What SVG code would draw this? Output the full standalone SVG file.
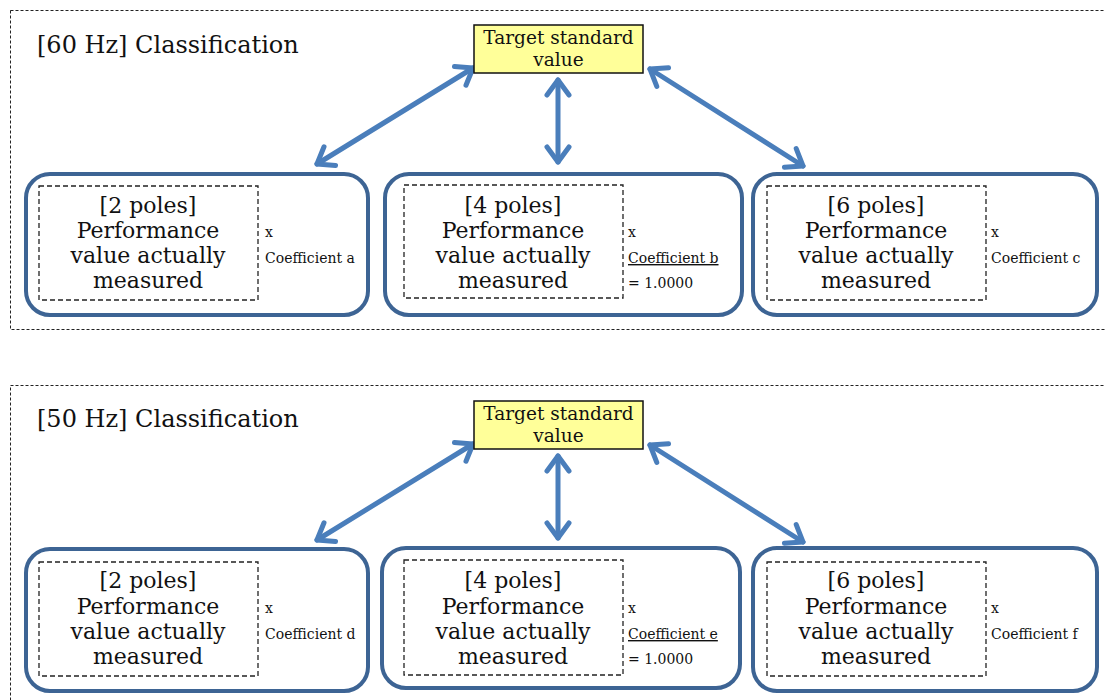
<svg xmlns="http://www.w3.org/2000/svg" width="1105" height="700" viewBox="0 0 1105 700">
<defs>
<style>
.frame{fill:none;stroke:#222;stroke-width:1;stroke-dasharray:3 2}
.title{font-family:"DejaVu Serif","Liberation Serif",serif;font-size:24px;fill:#111}
.target{fill:#ffff99;stroke:#111;stroke-width:1.5}
.ttext{font-family:"DejaVu Serif","Liberation Serif",serif;font-size:18.5px;fill:#111;text-anchor:middle}
.card{fill:#fff;stroke:#3d6494;stroke-width:4}
.inner{fill:none;stroke:#222;stroke-width:1.3;stroke-dasharray:5 3}
.body{font-family:"DejaVu Serif","Liberation Serif",serif;font-size:22px;fill:#111;text-anchor:middle}
.coef{font-family:"DejaVu Serif","Liberation Serif",serif;font-size:14px;fill:#111}
.link{fill:none;stroke:#4a7ebb;stroke-width:5;stroke-linecap:round;marker-start:url(#chev);marker-end:url(#chev)}
</style>
<marker id="chev" markerUnits="userSpaceOnUse" viewBox="-22 -16 28 32" refX="0" refY="0" markerWidth="28" markerHeight="32" orient="auto-start-reverse" overflow="visible">
<path d="M-15,-11 L0,0 L-15,11" fill="none" stroke="#4a7ebb" stroke-width="5" stroke-linecap="round" stroke-linejoin="round"/>
</marker>
</defs>
<rect width="1105" height="700" fill="#fff"/>

<g id="section-60hz">
<rect class="frame" x="10.5" y="10.5" width="1110" height="319"/>
<text class="title" x="37" y="53">[60 Hz] Classification</text>
</g>
<g id="section-50hz">
<rect class="frame" x="10.5" y="385.5" width="1110" height="330"/>
<text class="title" x="37" y="427">[50 Hz] Classification</text>
</g>

<g id="connectors">
<path class="link" d="M473,68 L317,164"/>
<path class="link" d="M558,80 L558,162"/>
<path class="link" d="M650,69 L803,166"/>
<path class="link" d="M473,444 L317,540"/>
<path class="link" d="M558,456 L558,538"/>
<path class="link" d="M650,445 L803,542"/>
</g>

<g id="target-60">
<rect class="target" x="474" y="25" width="169" height="48"/>
<text class="ttext" x="558.5" y="44">Target standard</text>
<text class="ttext" x="558.5" y="66">value</text>
</g>
<g id="target-50">
<rect class="target" x="474" y="401" width="169" height="48"/>
<text class="ttext" x="558.5" y="420">Target standard</text>
<text class="ttext" x="558.5" y="442">value</text>
</g>

<g id="poles2-60">
<rect class="card" x="26" y="174" width="342" height="141" rx="24"/>
<rect class="inner" x="39" y="186" width="219" height="114"/>
<text class="body" x="148" y="213">[2 poles]</text>
<text class="body" x="148" y="238">Performance</text>
<text class="body" x="148" y="263">value actually</text>
<text class="body" x="148" y="288">measured</text>
<text class="coef" x="265" y="237">x</text>
<text class="coef" x="265" y="263">Coefficient a</text>
</g>
<g id="poles4-60">
<rect class="card" x="385" y="174" width="357" height="141" rx="24"/>
<rect class="inner" x="404" y="185" width="219" height="113"/>
<text class="body" x="513" y="213">[4 poles]</text>
<text class="body" x="513" y="238">Performance</text>
<text class="body" x="513" y="263">value actually</text>
<text class="body" x="513" y="288">measured</text>
<text class="coef" x="628" y="237">x</text>
<text class="coef" x="628" y="263" text-decoration="underline">Coefficient b </text>
<text class="coef" x="628" y="288">= 1.0000</text>
</g>
<g id="poles6-60">
<rect class="card" x="753" y="174" width="344" height="141" rx="24"/>
<rect class="inner" x="767" y="186" width="219" height="114"/>
<text class="body" x="876" y="213">[6 poles]</text>
<text class="body" x="876" y="238">Performance</text>
<text class="body" x="876" y="263">value actually</text>
<text class="body" x="876" y="288">measured</text>
<text class="coef" x="991" y="237">x</text>
<text class="coef" x="991" y="263">Coefficient c</text>
</g>

<g id="poles2-50">
<rect class="card" x="26" y="549" width="342" height="142" rx="24"/>
<rect class="inner" x="39" y="562" width="219" height="114"/>
<text class="body" x="148" y="588">[2 poles]</text>
<text class="body" x="148" y="614">Performance</text>
<text class="body" x="148" y="639">value actually</text>
<text class="body" x="148" y="664">measured</text>
<text class="coef" x="265" y="613">x</text>
<text class="coef" x="265" y="639">Coefficient d</text>
</g>
<g id="poles4-50">
<rect class="card" x="382" y="548" width="358" height="140" rx="24"/>
<rect class="inner" x="404" y="560" width="219" height="115"/>
<text class="body" x="513" y="588">[4 poles]</text>
<text class="body" x="513" y="614">Performance</text>
<text class="body" x="513" y="639">value actually</text>
<text class="body" x="513" y="664">measured</text>
<text class="coef" x="628" y="613">x</text>
<text class="coef" x="628" y="639" text-decoration="underline">Coefficient e</text>
<text class="coef" x="628" y="664">= 1.0000</text>
</g>
<g id="poles6-50">
<rect class="card" x="753" y="548" width="344" height="143" rx="24"/>
<rect class="inner" x="767" y="562" width="219" height="114"/>
<text class="body" x="876" y="588">[6 poles]</text>
<text class="body" x="876" y="614">Performance</text>
<text class="body" x="876" y="639">value actually</text>
<text class="body" x="876" y="664">measured</text>
<text class="coef" x="991" y="613">x</text>
<text class="coef" x="991" y="639">Coefficient f</text>
</g>
</svg>
